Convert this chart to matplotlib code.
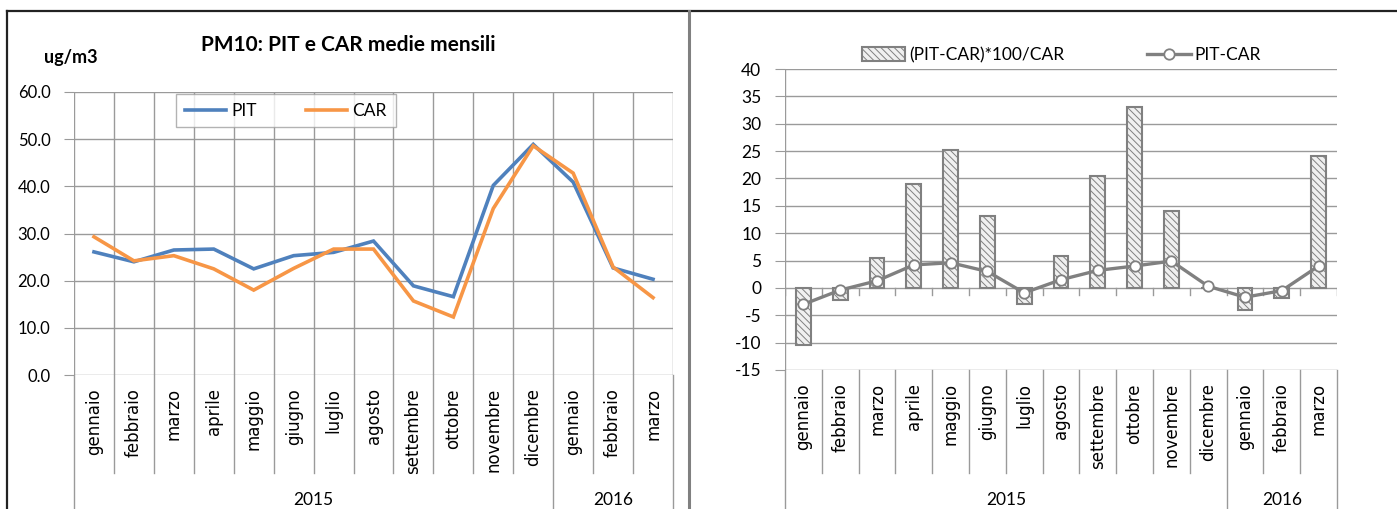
import matplotlib
matplotlib.use('Agg')
import matplotlib.pyplot as plt
import matplotlib.transforms as mtransforms
from matplotlib.lines import Line2D
import numpy as np

# monthly means, Jan 2015 - Mar 2016
mesi = ['gennaio', 'febbraio', 'marzo', 'aprile', 'maggio', 'giugno', 'luglio',
        'agosto', 'settembre', 'ottobre', 'novembre', 'dicembre',
        'gennaio', 'febbraio', 'marzo']
anni = ['2015', '2016']
mesi_per_anno = [12, 3]

pit = [26.1, 24.0, 26.5, 26.7, 22.5, 25.3, 26.0, 28.4, 18.9, 16.6, 40.2, 48.9, 40.9, 22.7, 20.3]
car = [29.3, 24.2, 25.3, 22.5, 18.0, 22.6, 26.7, 26.7, 15.7, 12.3, 35.3, 48.6, 42.8, 22.9, 16.4]

# percent difference (bars) and absolute difference (line)
diff_pct = [-10.4, -2.3, 5.5, 19.0, 25.2, 13.1, -3.0, 5.9, 20.5, 33.0, 14.0, 0.0, -4.1, -1.9, 24.1]
diff_abs = [-3.0, -0.4, 1.3, 4.2, 4.6, 3.0, -0.9, 1.5, 3.2, 4.0, 4.9, 0.3, -1.7, -0.5, 4.0]

W, H = 1397, 509
GRID = '#9a9a9a'
BLUE = '#4f81bd'
ORANGE = '#f79646'
GREY = '#808080'


def fx(px):
    return px / W


def fy(py):
    return 1 - py / H


plt.rcParams['font.family'] = ['Lato', 'DejaVu Sans']
plt.rcParams['hatch.color'] = GREY
plt.rcParams['hatch.linewidth'] = 0.7

fig = plt.figure(figsize=(W / 100, H / 100), dpi=100)
x = np.arange(len(mesi))


def category_axis(ax, bottom_px):
    '''Month labels, category separators and year row under the plot'''
    ax.set_xlim(-0.5, len(mesi) - 0.5)
    ax.set_xticks(x)
    ax.set_xticklabels(mesi, rotation=90, family='DejaVu Sans', fontsize=12, va='top')
    ax.tick_params(axis='x', length=0, pad=9.5)
    tr = mtransforms.blended_transform_factory(ax.transData, fig.transFigure)
    edges = np.arange(len(mesi) + 1) - 0.5
    year_edges = np.concatenate([[0], np.cumsum(mesi_per_anno)]) - 0.5
    for e in edges:
        low = 0 if e in year_edges else fy(473)
        fig.add_artist(Line2D([e, e], [fy(bottom_px), low], transform=tr, color=GRID, lw=1))
    for i, anno in enumerate(anni):
        xc = (year_edges[i] + year_edges[i + 1]) / 2
        fig.text(xc, fy(500), anno, transform=tr, ha='center', va='center', fontsize=12.5)


# left: PM10 monthly means
ax1 = fig.add_axes([fx(74), fy(375), fx(673) - fx(74), fy(92) - fy(375)])
ax1.plot(x, pit, color=BLUE, lw=2.6, label='PIT', solid_joinstyle='miter')
ax1.plot(x, car, color=ORANGE, lw=2.6, label='CAR', solid_joinstyle='miter')
ax1.set_ylim(0, 60)
ax1.set_yticks(np.arange(0, 61, 10))
ax1.set_yticklabels(['%.1f' % v for v in np.arange(0, 61, 10)], fontsize=12)
ax1.tick_params(axis='y', length=7, color=GRID, pad=10)
ax1.grid(axis='y', color=GRID, lw=1)
for e in np.arange(len(mesi) + 1) - 0.5:
    ax1.axvline(e, color=GRID, lw=1, zorder=0.5)
for s in ax1.spines.values():
    s.set_visible(False)
category_axis(ax1, 375)
leg1 = ax1.legend(loc='upper left', bbox_to_anchor=(fx(176), fy(94)), bbox_transform=fig.transFigure,
                  ncol=2, fontsize=12.5, frameon=True, fancybox=False, handlelength=2.4,
                  handletextpad=0.3, columnspacing=2.8, borderpad=0.5,
                  borderaxespad=0)
leg1.get_frame().set_edgecolor('#a0a0a0')
leg1.get_frame().set_linewidth(1)
fig.text(fx(348), fy(45), 'PM10: PIT e CAR medie mensili', ha='center', va='center',
         fontsize=15, fontweight='bold')
fig.text(fx(71), fy(57), 'ug/m3', ha='center', va='center', fontsize=13, fontweight='bold')

# right: differences PIT - CAR
ax2 = fig.add_axes([fx(785), fy(370), fx(1337) - fx(785), fy(69) - fy(370)])
bars = ax2.bar(x, diff_pct, width=0.4, color='#f0f0f0', edgecolor=GREY, lw=1.5,
               hatch='\\\\\\\\\\', label='(PIT-CAR)*100/CAR', zorder=2)
line, = ax2.plot(x, diff_abs, color=GREY, lw=2.4, marker='o', ms=7.5, mfc='white', mec=GREY,
                 mew=1.3, label='PIT-CAR', zorder=3)
ax2.set_ylim(-15, 40)
ax2.set_yticks(np.arange(-15, 41, 5))
ax2.set_yticklabels([str(v) for v in np.arange(-15, 41, 5)], fontsize=12.5)
ax2.tick_params(axis='y', length=7, color=GRID, pad=10)
ax2.grid(axis='y', color=GRID, lw=1, zorder=0)
ax2.set_axisbelow(True)
for s in ax2.spines.values():
    s.set_visible(False)
ax2.axvline(-0.5, color=GRID, lw=1)
# category ticks along the zero line
for e in np.arange(len(mesi) + 1) - 0.5:
    ax2.plot([e, e], [0, -1.3], color=GRID, lw=1, zorder=1)
category_axis(ax2, 370)
ax2.legend([bars, line], ['(PIT-CAR)*100/CAR', 'PIT-CAR'],
           loc='center left', bbox_to_anchor=(fx(862), fy(55)), bbox_transform=fig.transFigure,
           ncol=2, fontsize=12.5, frameon=False, handlelength=2.5, handleheight=0.9,
           handletextpad=0.2, columnspacing=4.8, borderaxespad=0, borderpad=0)

# outer frame and divider between the two charts
fig.add_artist(Line2D([fx(7), 1], [fy(11), fy(11)], color='#222222', lw=1.6))
fig.add_artist(Line2D([fx(7), fx(7)], [fy(11), 0], color='#222222', lw=1.6))
fig.add_artist(Line2D([fx(689), fx(689)], [fy(11), 0], color=GREY, lw=2.2))

plt.savefig('out.png', dpi=100)
